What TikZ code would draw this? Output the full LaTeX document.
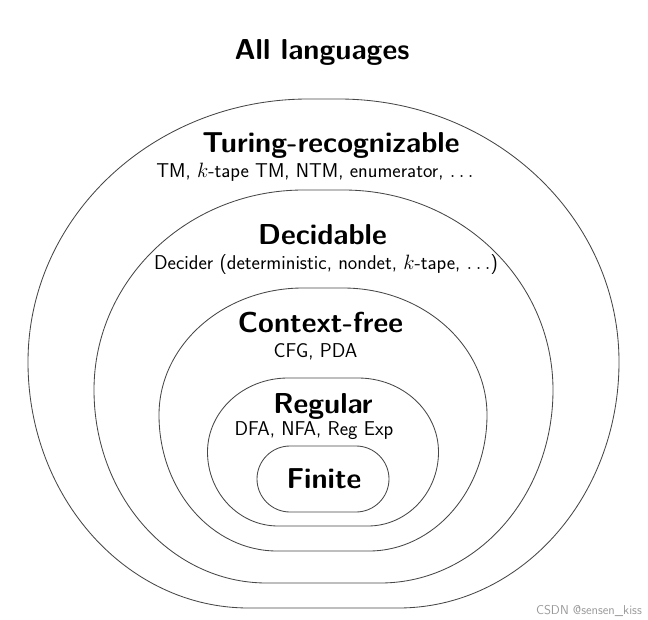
\documentclass[tikz,border=0pt]{standalone}
\usepackage{amsmath}
\usetikzlibrary{positioning}

\begin{document}
\begin{tikzpicture}[x=1pt, y=-1pt,
    region/.style={draw=black!72, line width=0.85pt},
    title/.style={font=\sffamily\bfseries\fontsize{28.8}{34}\selectfont, anchor=base, inner sep=0pt},
    models/.style={font=\sffamily\fontsize{20}{24}\selectfont, anchor=base, inner sep=0pt}]
    \useasboundingbox (0,0) rectangle (648,620);
    % nested classes: centre x / top / widest y / bottom / half width / top flat / bottom flat / bulge
    \foreach \cx/\yt/\ym/\yb/\hw/\ft/\fb/\kk in {
        323.5/99/362/608/295.5/15/75/0.552,
        323.5/190/390/583/229.5/20/57/0.552,
        323/288/415/551/164/20/46/0.552,
        323/378/452/526/115.5/35/45/0.552,
        323/446/479/512/66/33/33/0.552} {
      \pgfmathsetmacro\xb{\fb+\kk*(\hw-\fb)}
      \pgfmathsetmacro\xt{\ft+\kk*(\hw-\ft)}
      \pgfmathsetmacro\yl{\ym+\kk*(\yb-\ym)}
      \pgfmathsetmacro\yu{\ym-\kk*(\ym-\yt)}
      \draw[region] ({\cx-\fb},\yb) -- ({\cx+\fb},\yb)
        .. controls ({\cx+\xb},\yb) and ({\cx+\hw},\yl) .. ({\cx+\hw},\ym)
        .. controls ({\cx+\hw},\yu) and ({\cx+\xt},\yt) .. ({\cx+\ft},\yt)
        -- ({\cx-\ft},\yt)
        .. controls ({\cx-\xt},\yt) and ({\cx-\hw},\yu) .. ({\cx-\hw},\ym)
        .. controls ({\cx-\hw},\yl) and ({\cx-\xb},\yb) .. cycle;
    }
    \node[title] (all) at (322,60) {All languages};
    \node[title] (turing) at (331,153) {Turing-recognizable};
    \node[models] (turingm) at (315,178) {TM, $k$-tape TM, NTM, enumerator, $\ldots$};
    \node[title] (dec) at (322.5,245) {Decidable};
    \node[models] (decm) at (326,270) {Decider (deterministic, nondet, $k$-tape, $\ldots$)};
    \node[title] (cf) at (320.5,333) {Context-free};
    \node[models] (cfm) at (315.5,357) {CFG, PDA};
    \node[title] (reg) at (323,413) {Regular};
    \node[models] (regm) at (314,435) {DFA, NFA, Reg Exp};
    \node[title] (fin) at (324,488) {Finite};
    \node[font=\sffamily\fontsize{12.8}{15}\selectfont, text=black!40, anchor=base east, inner sep=0pt] (mark) at (642,614) {CSDN @sensen\_kiss};
  \end{tikzpicture}
\end{document}
